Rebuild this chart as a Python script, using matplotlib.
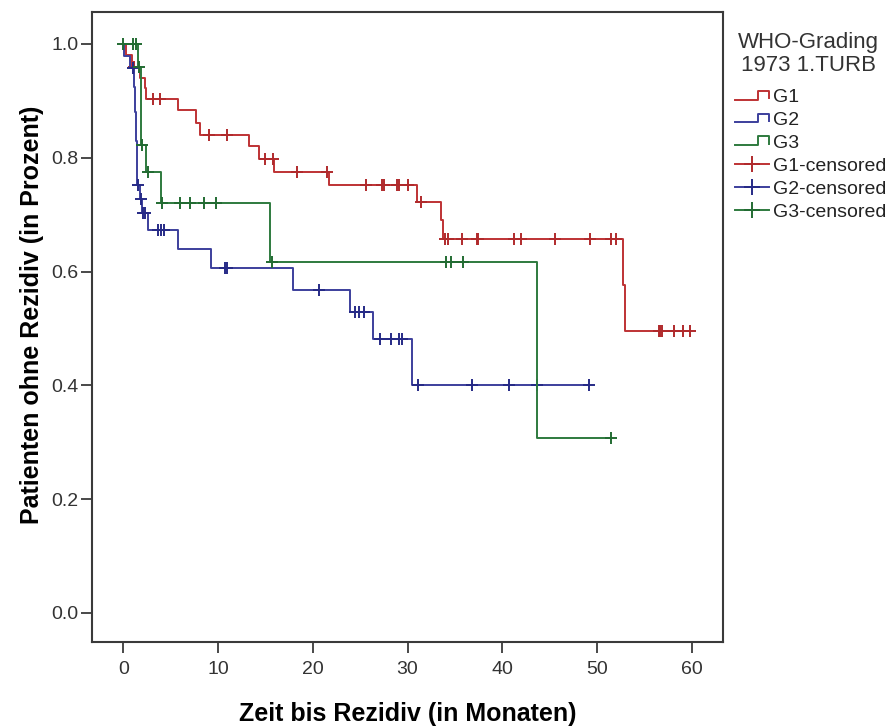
import numpy as np
import matplotlib
matplotlib.use("Agg")
import matplotlib.pyplot as plt
from matplotlib.lines import Line2D
from matplotlib.legend_handler import HandlerBase

plt.rcParams['font.family'] = ['Liberation Sans', 'DejaVu Sans']

# Kaplan-Meier Stufen (Zeit in Monaten, Anteil ohne Rezidiv)
g1_t = [0, 0.3, 0.9, 1.8, 2.3, 2.4, 5.8, 7.7, 8.1, 13.3, 14.3, 15.9, 21.7,
        31.0, 33.5, 33.7, 52.7, 53.0]
g1_s = [1.0, 0.981, 0.960, 0.940, 0.922, 0.903, 0.884, 0.861, 0.840, 0.820,
        0.797, 0.774, 0.752, 0.723, 0.690, 0.658, 0.577, 0.495]
g1_c = [1.1, 3.1, 3.9, 9.1, 10.9, 15.0, 15.8, 18.3, 21.5, 25.6, 27.3, 27.5,
        28.9, 29.1, 30.0, 31.4, 34.0, 34.3, 35.8, 37.3, 37.4, 41.2, 42.0,
        45.6, 49.3, 51.5, 52.0, 56.5, 56.7, 56.9, 58.1, 59.1, 59.8]

g2_t = [0, 0.05, 0.7, 1.1, 1.2, 1.3, 1.4, 1.5, 1.75, 2.0, 2.6, 5.8, 9.25,
        17.9, 23.9, 26.4, 30.45]
g2_s = [1.0, 0.978, 0.957, 0.925, 0.880, 0.830, 0.790, 0.752, 0.727, 0.703,
        0.673, 0.639, 0.606, 0.568, 0.528, 0.481, 0.401]
g2_c = [1.0, 1.6, 1.85, 2.1, 2.3, 3.7, 4.0, 4.3, 10.75, 11.0, 20.7, 24.5,
        24.9, 25.4, 27.1, 28.3, 29.1, 29.4, 31.1, 36.8, 40.75, 43.7, 49.2]

g3_t = [0, 1.55, 1.85, 2.35, 4.0, 15.5, 43.7]
g3_s = [1.0, 0.960, 0.822, 0.774, 0.720, 0.616, 0.308]
g3_c = [0.0, 1.0, 1.3, 1.65, 2.0, 2.6, 4.1, 6.0, 7.0, 8.5, 9.8, 15.7, 34.1,
        34.6, 35.9, 51.5]

gruppen = ['G1', 'G2', 'G3']
farben = ['#BE3234', '#3C3F9C', '#2E7A3E']
marker_farben = ['#B02A2C', '#262A86', '#226B32']


class StufenHandler(HandlerBase):
    # kleines Stufen-Symbol wie bei SPSS
    def create_artists(self, legend, orig_handle, xdescent, ydescent,
                       width, height, fontsize, trans):
        xs = np.array([0.0, 0.68, 0.68, 1.0, 1.0]) * width - xdescent
        ys = np.array([0.2, 0.2, 0.85, 0.85, 0.3]) * height - ydescent
        l = Line2D(xs, ys, color=orig_handle.get_color(),
                   lw=orig_handle.get_linewidth(), transform=trans)
        return [l]


fig = plt.figure(figsize=(8.88, 7.27), dpi=100)
ax = fig.add_axes([0.1036, 0.1169, 0.7106, 0.8666])

daten = [(g1_t, g1_s, g1_c), (g2_t, g2_s, g2_c), (g3_t, g3_s, g3_c)]
stufen_handles = []
zensiert_handles = []
for (t, s, c), name, f, mf in zip(daten, gruppen, farben, marker_farben):
    t = np.array(t)
    s = np.array(s)
    c = np.array(c)
    ende = max(t[-1], c[-1])
    x = np.r_[t, ende]
    y = np.r_[s, s[-1]]
    ln, = ax.plot(x, y, drawstyle='steps-post', color=f, lw=1.4, label=name)
    # Zensierte Werte auf der Kurve
    idx = np.searchsorted(t, c, side='right') - 1
    ax.plot(c, s[idx], ls='none', marker='+', ms=8, mew=1.4, color=mf)
    stufen_handles.append(ln)
    zensiert_handles.append(Line2D([], [], color=f, lw=1.4, marker='+',
                                   ms=11, mew=1.4, mec=mf))

ax.set_xlim(-3.3, 63.3)
ax.set_ylim(-0.051, 1.056)
ax.set_xticks(np.arange(0, 61, 10))
ax.set_yticks(np.arange(0, 1.01, 0.2))
ax.set_yticklabels(['%.1f' % v for v in np.arange(0, 1.01, 0.2)])

for sp in ax.spines.values():
    sp.set_color('#3A3A3A')
    sp.set_linewidth(1.5)
ax.tick_params(axis='both', direction='out', length=8, width=1.3,
               color='#3A3A3A', labelsize=14, labelcolor='#333333')
ax.tick_params(axis='y', pad=1.5)
ax.tick_params(axis='x', pad=6)

ax.set_xlabel('Zeit bis Rezidiv (in Monaten)', fontsize=18, fontweight='bold')
ax.set_ylabel('Patienten ohne Rezidiv (in Prozent)', fontsize=18,
              fontweight='bold')
ax.xaxis.set_label_coords(0.5, -0.096)
ax.yaxis.set_label_coords(-0.076, 0.52)

# Legendentitel separat, zentriert ueber den Eintraegen
fig.text(0.91, 0.956, 'WHO-Grading\n1973 1.TURB', ha='center', va='top',
         multialignment='center', fontsize=16, color='#333333',
         linespacing=1.1)

labels = gruppen + [g + '-censored' for g in gruppen]
handler = {h: StufenHandler() for h in stufen_handles}
leg = ax.legend(stufen_handles + zensiert_handles, labels,
                handler_map=handler, loc='upper left',
                bbox_to_anchor=(0.8164, 0.8914),
                bbox_transform=fig.transFigure, frameon=False,
                fontsize=14, borderpad=0, handlelength=1.75,
                handletextpad=0.2, labelspacing=0.27, numpoints=1)
for txt in leg.get_texts():
    txt.set_color('#222222')

fig.savefig('out.png', dpi=100)
